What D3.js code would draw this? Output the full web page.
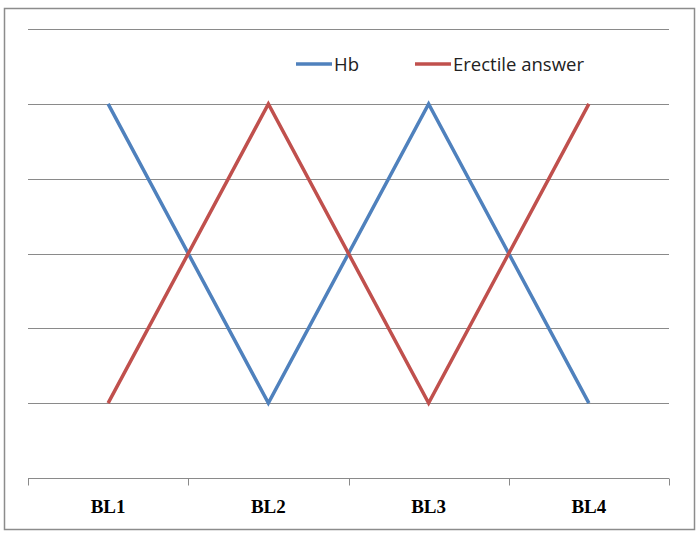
<!DOCTYPE html>
<html>
<head>
<meta charset="utf-8">
<script src="https://cdn.jsdelivr.net/npm/d3@7"></script>
<style>
  body { margin: 0; background: #fff; }
</style>
</head>
<body>
<div class="graph"></div>
<script>
// categories along the x axis
var categories = ['BL1', 'BL2', 'BL3', 'BL4'];
// series values (no y labels in the picture, read on a 0..6 grid)
var hbValues = [5, 1, 5, 1];
var erectileValues = [1, 5, 1, 5];
var seriesNames = ['Hb', 'Erectile answer'];
var yTicks = [0, 1, 2, 3, 4, 5, 6];

var W = 700, H = 535;
var margin = {top: 29, right: 31, bottom: 57, left: 28},
    width = W - margin.left - margin.right,
    height = H - margin.top - margin.bottom;

var color = d3.scaleOrdinal().domain(seriesNames).range(['#4F81BD', '#C0504D']);

var x = d3.scaleBand().domain(categories).range([0, width]);
var y = d3.scaleLinear().domain([0, 6]).range([height, 0]);

var svg = d3.select('.graph').append('svg')
    .attr('width', W)
    .attr('height', H);

// chart border
svg.append('rect')
    .attr('x', 4.5).attr('y', 8.5)
    .attr('width', 690).attr('height', 521)
    .attr('fill', '#fff')
    .attr('stroke', '#8c8c8c')
    .attr('stroke-width', 1.5);

var g = svg.append('g')
    .attr('transform', 'translate(' + margin.left + ',' + margin.top + ')');

// gridlines
g.selectAll('.grid')
    .data(yTicks.slice(1))
    .enter().append('line')
    .attr('class', 'grid')
    .attr('x1', 0).attr('x2', width)
    .attr('y1', function(d) { return Math.round(y(d)) + 0.5; })
    .attr('y2', function(d) { return Math.round(y(d)) + 0.5; })
    .attr('stroke', '#8a8a8a')
    .attr('stroke-width', 1);

// x axis with ticks between categories
var xAxis = g.append('g')
    .attr('transform', 'translate(0,' + (Math.round(height) + 0.5) + ')');
xAxis.append('line')
    .attr('x1', 0).attr('x2', width)
    .attr('stroke', '#8a8a8a');
var tickPos = categories.map(function(c) { return x(c); }).concat([width]);
xAxis.selectAll('.tick')
    .data(tickPos)
    .enter().append('line')
    .attr('x1', function(d) { return Math.round(d) + 0.5; })
    .attr('x2', function(d) { return Math.round(d) + 0.5; })
    .attr('y1', 0).attr('y2', 7)
    .attr('stroke', '#8a8a8a');
xAxis.selectAll('.label')
    .data(categories)
    .enter().append('text')
    .attr('x', function(d) { return x(d) + x.bandwidth() / 2; })
    .attr('y', 34)
    .attr('text-anchor', 'middle')
    .style('font-family', '"Liberation Serif", "Times New Roman", serif')
    .style('font-weight', 'bold')
    .style('font-size', '19px')
    .text(function(d) { return d; });

// lines
var series = [
  {name: seriesNames[0], values: hbValues},
  {name: seriesNames[1], values: erectileValues}
];

var line = d3.line()
    .x(function(d, i) { return x(categories[i]) + x.bandwidth() / 2; })
    .y(function(d) { return y(d); });

g.selectAll('.series')
    .data(series)
    .enter().append('path')
    .attr('class', 'series')
    .attr('d', function(d) { return line(d.values); })
    .attr('fill', 'none')
    .attr('stroke', function(d) { return color(d.name); })
    .attr('stroke-width', 3.5);

// legend
var legendX = [296, 415];
var legend = svg.selectAll('.legend')
    .data(seriesNames)
    .enter().append('g')
    .attr('class', 'legend')
    .attr('transform', function(d, i) { return 'translate(' + legendX[i] + ',64)'; });
legend.append('line')
    .attr('x1', 0).attr('x2', 36)
    .attr('stroke', function(d) { return color(d); })
    .attr('stroke-width', 3.5);
legend.append('text')
    .attr('x', 38)
    .attr('y', 7)
    .style('font-family', '"Open Sans", "Noto Sans", sans-serif')
    .style('font-size', '18.5px')
    .style('fill', '#222')
    .text(function(d) { return d; });
</script>
</body>
</html>
